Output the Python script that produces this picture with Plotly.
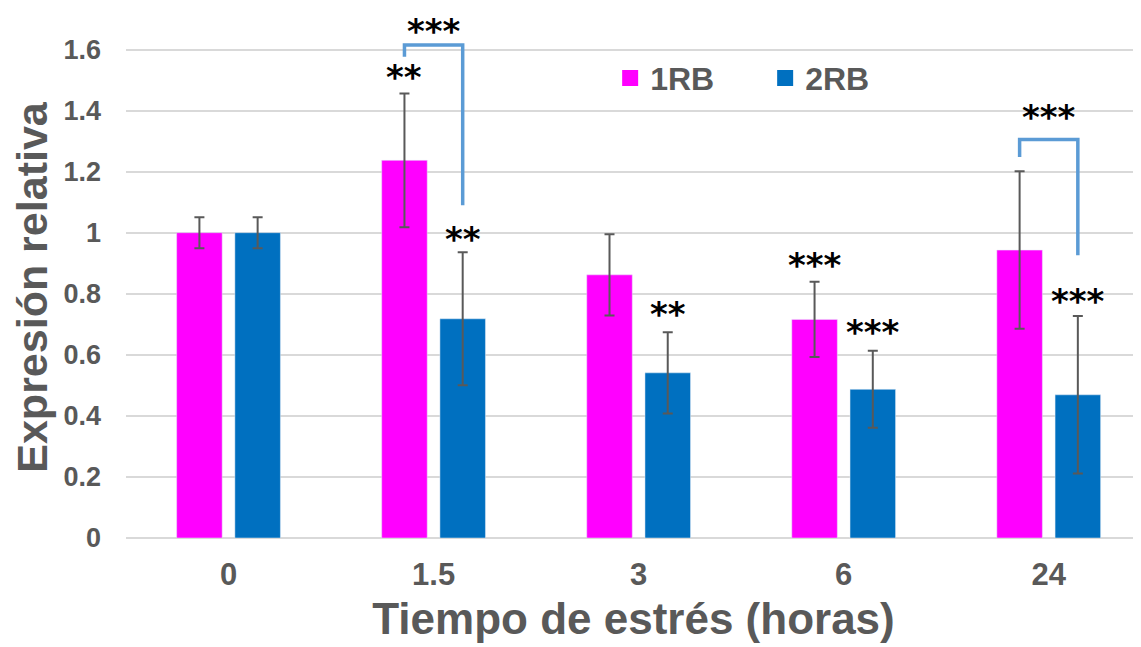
import plotly.graph_objects as go

# ---- data ----
categories = ["0", "1.5", "3", "6", "24"]
rb1_values = [1.0, 1.237, 0.862, 0.716, 0.943]
rb1_errors = [0.051, 0.219, 0.133, 0.123, 0.258]
rb2_values = [1.0, 0.718, 0.541, 0.487, 0.469]
rb2_errors = [0.051, 0.218, 0.133, 0.126, 0.258]

# significance labels: (category index, series, text, label height)
sig_labels = [
    (1, "1RB", "**", 1.527),
    (1, "2RB", "**", 0.995),
    (2, "2RB", "**", 0.751),
    (3, "1RB", "***", 0.912),
    (3, "2RB", "***", 0.691),
    (4, "2RB", "***", 0.792),
]
# brackets between series: (category index, top, left bottom, right bottom, label height)
brackets = [
    (1, 1.615, 1.576, 1.09, 1.70),
    (4, 1.305, 1.248, 0.926, 1.396),
]

PINK = "#FF00FF"
BLUE = "#0070C0"
GREY = "#595959"
FONT = "Liberation Sans"
STAR_FONT = dict(family="DejaVu Sans", size=34, color="black", weight="bold")
Y_TOP = 1.641
MARGIN_T, PLOT_H = 29, 501
PAPER_TOP = 1 + MARGIN_T / PLOT_H  # paper y of the figure's top edge

BARGAP = 0.432
GROUPGAP = 0.218
offset = (1 - BARGAP) / 4  # center offset of each bar from the category center

fig = go.Figure()
fig.add_trace(go.Bar(
    x=categories, y=rb1_values, name="1RB", marker_color=PINK, showlegend=False,
    error_y=dict(type="data", array=rb1_errors, color=GREY, thickness=2, width=5),
))
fig.add_trace(go.Bar(
    x=categories, y=rb2_values, name="2RB", marker_color=BLUE, showlegend=False,
    error_y=dict(type="data", array=rb2_errors, color=GREY, thickness=2, width=5),
))
# legend proxies with larger square symbols
for name, col in [("1RB", PINK), ("2RB", BLUE)]:
    fig.add_trace(go.Scatter(
        x=[None], y=[None], mode="markers", name=name,
        marker=dict(symbol="square", size=16, color=col),
    ))

for ci, series, txt, yv in sig_labels:
    xv = ci - offset if series == "1RB" else ci + offset
    fig.add_annotation(x=xv, y=yv, xref="x", yref="y", text=txt, showarrow=False,
                       font=STAR_FONT, yanchor="middle", yshift=-5)

for ci, top, lb, rb, ly in brackets:
    x1, x2 = ci - offset, ci + offset
    fig.add_shape(type="path", xref="x", yref="y",
                  path=f"M {x1},{lb} L {x1},{top} L {x2},{top} L {x2},{rb}",
                  line=dict(color="#5B9BD5", width=3.5))
    yp = ly / Y_TOP
    if yp > 1:
        # keep the label box inside the figure's top edge
        fig.add_annotation(x=ci, y=PAPER_TOP - 0.002, xref="x", yref="paper", text="***",
                           showarrow=False, font=STAR_FONT, yanchor="top")
    else:
        fig.add_annotation(x=ci, y=yp, xref="x", yref="paper", text="***",
                           showarrow=False, font=STAR_FONT, yanchor="middle", yshift=-5)

# page body adds an 8px offset, so the figure is 8px smaller and margins 8px less
fig.update_layout(
    width=1133, height=639,
    margin=dict(l=118, r=0, t=MARGIN_T, b=109),
    paper_bgcolor="white", plot_bgcolor="white",
    barmode="group", bargap=BARGAP, bargroupgap=GROUPGAP,
    font=dict(family=FONT, color=GREY),
    legend=dict(orientation="h", x=0.477, y=0.918, xanchor="left", yanchor="middle",
                font=dict(family=FONT, size=32, color=GREY, weight="bold"),
                bgcolor="rgba(0,0,0,0)", entrywidth=110, itemclick=False),
    xaxis=dict(
        type="category", range=[-0.5, 4.45],
        showgrid=False, showline=False, zeroline=False,
        tickfont=dict(family=FONT, size=31, color=GREY, weight="bold"),
        ticklabelstandoff=15,
        title=dict(text="Tiempo de estrés (horas)", standoff=12,
                   font=dict(family=FONT, size=44, color=GREY, weight="bold")),
    ),
    yaxis=dict(
        range=[0, Y_TOP], tickvals=[0, 0.2, 0.4, 0.6, 0.8, 1, 1.2, 1.4, 1.6],
        ticktext=["0", "0.2", "0.4", "0.6", "0.8", "1", "1.2", "1.4", "1.6"],
        showgrid=True, gridcolor="#D9D9D9", gridwidth=1.5,
        zeroline=True, zerolinecolor="#D9D9D9", zerolinewidth=2,
        showline=False, automargin=True,
        tickfont=dict(family=FONT, size=27, color=GREY, weight="bold"),
        ticklabelstandoff=24,
        title=dict(text="Expresión relativa", standoff=16,
                   font=dict(family=FONT, size=43, color=GREY, weight="bold")),
    ),
)

fig.write_html("out.html")
